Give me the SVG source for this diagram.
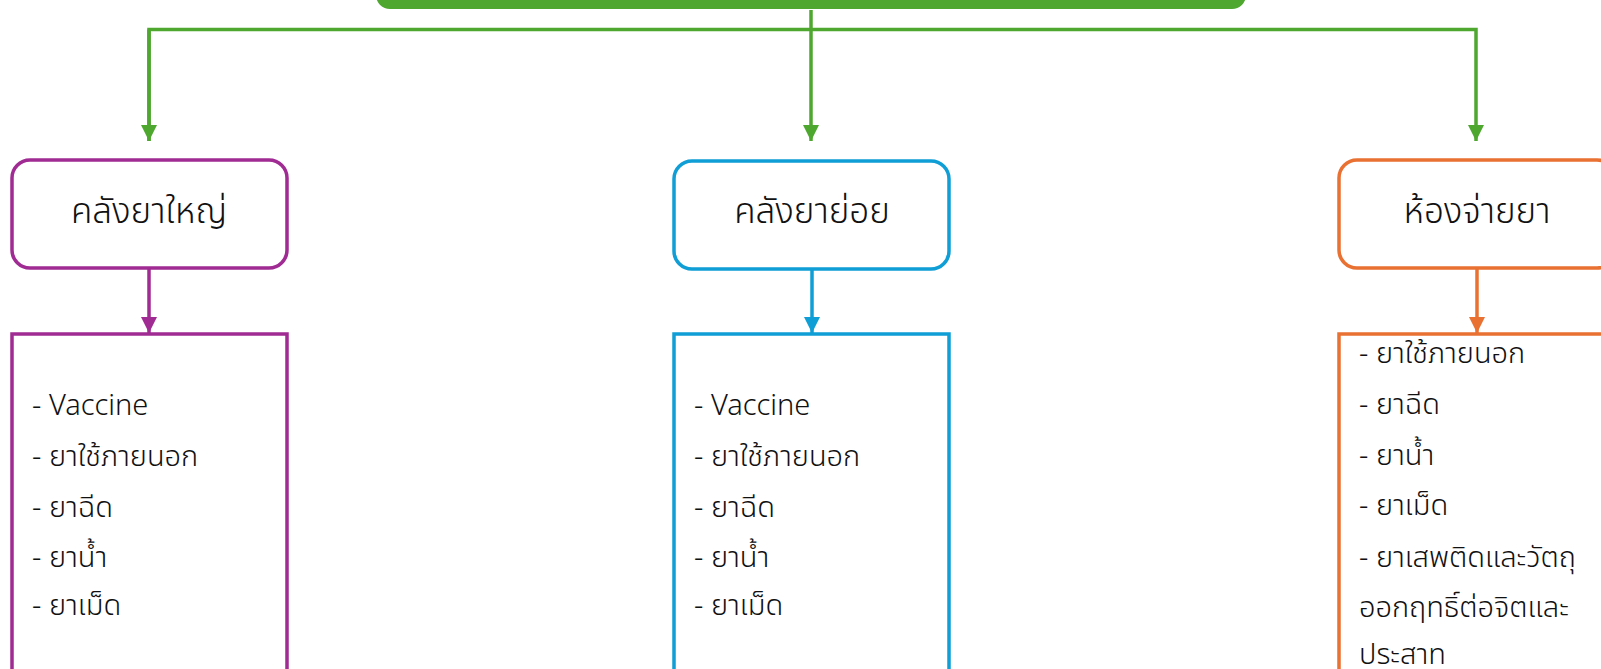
<svg xmlns="http://www.w3.org/2000/svg" width="1601" height="669" viewBox="0 0 1601 669">
<style>
  .t { font-family: "Noto Sans", "Noto Sans Thai", "Leelawadee UI", "DejaVu Sans", sans-serif; fill: #111; font-weight: 300; }
  .title { font-size: 35px; text-anchor: middle; }
  .item { font-size: 29px; }
  .box { fill: #fff; stroke-width: 3.5; }
  .conn { fill: none; stroke-width: 3.5; }
</style>
<defs>
  <marker id="ag" viewBox="0 0 10 10" refX="10" refY="5" markerWidth="16" markerHeight="16" markerUnits="userSpaceOnUse" orient="auto"><path d="M0,0 L10,5 L0,10 z" fill="#4ea72e"/></marker>
  <marker id="ap" viewBox="0 0 10 10" refX="10" refY="5" markerWidth="16" markerHeight="16" markerUnits="userSpaceOnUse" orient="auto"><path d="M0,0 L10,5 L0,10 z" fill="#a02b93"/></marker>
  <marker id="ab" viewBox="0 0 10 10" refX="10" refY="5" markerWidth="16" markerHeight="16" markerUnits="userSpaceOnUse" orient="auto"><path d="M0,0 L10,5 L0,10 z" fill="#0f9ed5"/></marker>
  <marker id="ao" viewBox="0 0 10 10" refX="10" refY="5" markerWidth="16" markerHeight="16" markerUnits="userSpaceOnUse" orient="auto"><path d="M0,0 L10,5 L0,10 z" fill="#e97132"/></marker>
</defs>
<rect width="1601" height="669" fill="#fff"/>

<g id="top">
  <rect x="376" y="-60" width="870" height="69" rx="14" fill="#4ea72e"/>
</g>

<g id="connectors">
  <path class="conn" stroke="#4ea72e" d="M149,141 V29.5 H1476 V141" marker-end="url(#ag)"/>
  <path class="conn" stroke="#4ea72e" d="M149,29.5 V141" marker-end="url(#ag)"/>
  <path class="conn" stroke="#4ea72e" d="M811,10 V141" marker-end="url(#ag)"/>
  <path class="conn" stroke="#a02b93" d="M149,268 V333" marker-end="url(#ap)"/>
  <path class="conn" stroke="#0f9ed5" d="M812,269 V333" marker-end="url(#ab)"/>
  <path class="conn" stroke="#e97132" d="M1477,268 V333" marker-end="url(#ao)"/>
</g>

<g id="main-store">
  <rect class="box" stroke="#a02b93" x="12" y="160" width="275" height="108" rx="18"/>
  <text class="t title" x="149" y="223">คลังยาใหญ่</text>
</g>
<g id="main-store-list">
  <rect class="box" stroke="#a02b93" x="12" y="334" width="275" height="360"/>
  <text class="t item" x="32" y="415">- Vaccine</text>
  <text class="t item" x="32" y="466">- ยาใช้ภายนอก</text>
  <text class="t item" x="32" y="517">- ยาฉีด</text>
  <text class="t item" x="32" y="567">- ยาน้ำ</text>
  <text class="t item" x="32" y="615">- ยาเม็ด</text>
</g>

<g id="sub-store">
  <rect class="box" stroke="#0f9ed5" x="674" y="161" width="275" height="108" rx="18"/>
  <text class="t title" x="812" y="223">คลังยาย่อย</text>
</g>
<g id="sub-store-list">
  <rect class="box" stroke="#0f9ed5" x="674" y="334" width="275" height="360"/>
  <text class="t item" x="694" y="415">- Vaccine</text>
  <text class="t item" x="694" y="466">- ยาใช้ภายนอก</text>
  <text class="t item" x="694" y="517">- ยาฉีด</text>
  <text class="t item" x="694" y="567">- ยาน้ำ</text>
  <text class="t item" x="694" y="615">- ยาเม็ด</text>
</g>

<g id="dispensary">
  <rect class="box" stroke="#e97132" x="1339" y="160" width="276" height="108" rx="18"/>
  <text class="t title" x="1477" y="223">ห้องจ่ายยา</text>
</g>
<g id="dispensary-list">
  <rect class="box" stroke="#e97132" x="1339" y="334" width="276" height="360"/>
  <text class="t item" x="1359" y="363">- ยาใช้ภายนอก</text>
  <text class="t item" x="1359" y="414">- ยาฉีด</text>
  <text class="t item" x="1359" y="465">- ยาน้ำ</text>
  <text class="t item" x="1359" y="515">- ยาเม็ด</text>
  <text class="t item" x="1359" y="567">- ยาเสพติดและวัตถุ</text>
  <text class="t item" x="1359" y="617">ออกฤทธิ์ต่อจิตและ</text>
  <text class="t item" x="1359" y="664">ประสาท</text>
</g>
</svg>
